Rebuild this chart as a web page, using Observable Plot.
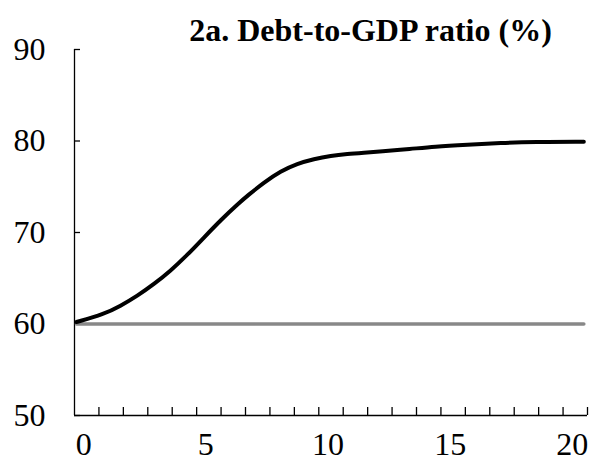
<!DOCTYPE html>
<html>
<head>
<meta charset="utf-8">
<script src="https://cdn.jsdelivr.net/npm/d3@7"></script>
<script src="https://cdn.jsdelivr.net/npm/@observablehq/plot@0.6"></script>
<style>
  html, body { margin: 0; padding: 0; background: #fff; }
  #chart { width: 590px; height: 462px; }
</style>
</head>
<body>
<div id="chart"></div>
<script>
const title = "2a. Debt-to-GDP ratio (%)";
// line x positions in axis units (categories 0..20)
const debtX = [-0.42, 0.70, 1.38, 2.07, 2.75, 3.43, 4.12, 4.80, 5.48, 6.23, 6.57, 7.25, 7.94, 8.62, 9.30, 9.99, 10.67, 11.35, 12.03, 13.26, 14.21, 15.59, 16.95, 18.30, 20.35];
const debtY = [60.22, 61.06, 61.97, 63.07, 64.35, 65.80, 67.55, 69.45, 71.35, 73.20, 74.00, 75.45, 76.70, 77.52, 78.03, 78.38, 78.58, 78.72, 78.86, 79.13, 79.38, 79.60, 79.79, 79.89, 79.93];
const baseX = [-0.42, 20.35];
const baseY = [60, 60];
const yTicks = [50, 60, 70, 80, 90];
const xLabels = [0, 5, 10, 15, 20];
const xTickMarks = d3.range(0.5, 21, 1);

const debt = debtX.map((x, i) => ({x, y: debtY[i]}));
const base = baseX.map((x, i) => ({x, y: baseY[i]}));

const font = "'Liberation Serif', 'Times New Roman', serif";

const chart = Plot.plot({
  width: 590,
  height: 462,
  marginLeft: 74,
  marginRight: 3,
  marginTop: 49,
  marginBottom: 47,
  style: {fontFamily: font, fontSize: "32px", color: "#000", background: "#fff"},
  x: {domain: [-0.5, 20.5]},
  y: {domain: [50, 90]},
  marks: [
    Plot.ruleX([-0.5], {y1: 50, y2: 90, stroke: "#000", strokeWidth: 1.3}),
    Plot.ruleY([50], {x1: -0.5, x2: 20.5, stroke: "#000", strokeWidth: 1.3}),
    Plot.axisY({ticks: yTicks, tickSize: -6, tickFormat: () => "", strokeWidth: 1.3, label: null}),
    Plot.axisY({ticks: yTicks, tickSize: 0, tickPadding: 29, fontSize: 32, label: null}),
    Plot.axisX({ticks: xTickMarks, tickSize: -8, tickFormat: () => "", strokeWidth: 1.3, label: null}),
    Plot.axisX({ticks: xLabels, tickSize: 0, tickPadding: 17, dx: -3, fontSize: 32, label: null}),
    Plot.line(base, {x: "x", y: "y", stroke: "#888", strokeWidth: 3.5}),
    Plot.line(debt, {x: "x", y: "y", stroke: "#000", strokeWidth: 4, curve: "basis"}),
    Plot.text([title], {frameAnchor: "top-left", dx: 296, dy: -31, text: d => d, fontSize: 32, fontWeight: "bold", textAnchor: "middle", fill: "#000"})
  ]
});
document.getElementById("chart").appendChild(chart);
</script>
</body>
</html>
